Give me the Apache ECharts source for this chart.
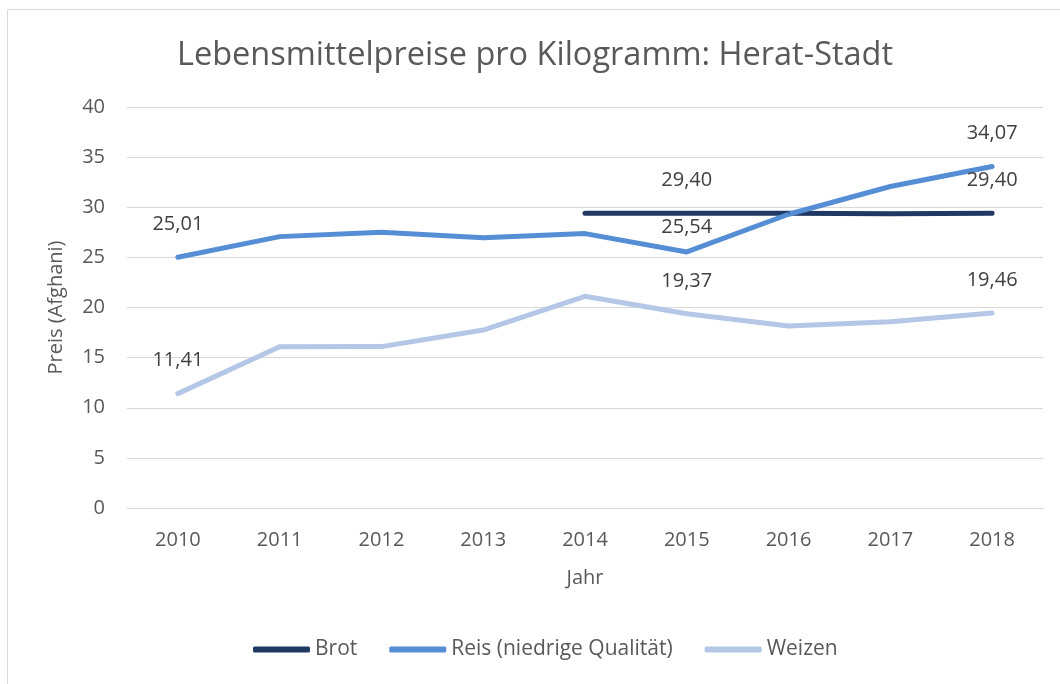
<!DOCTYPE html>
<html>
<head>
<meta charset="utf-8">
<title>Lebensmittelpreise pro Kilogramm: Herat-Stadt</title>
<script src="https://cdn.jsdelivr.net/npm/echarts@6/dist/echarts.min.js"></script>
<style>
	html, body { margin: 0; padding: 0; background: #fff; }
	#main { width: 1060px; height: 684px; }
</style>
</head>
<body>
<div id="main"></div>
<script>
//Daten
var years = ['2010', '2011', '2012', '2013', '2014', '2015', '2016', '2017', '2018'];
var brot = [null, null, null, null, 29.40, 29.40, 29.40, 29.35, 29.40];
var reis = [25.01, 27.07, 27.50, 26.95, 27.37, 25.54, 29.30, 32.07, 34.07];
var weizen = [11.41, 16.08, 16.10, 17.75, 21.12, 19.37, 18.15, 18.58, 19.46];
//welche Punkte eine Beschriftung bekommen
var brotLabels = [5, 8];
var reisLabels = [0, 5, 8];
var weizenLabels = [0, 5, 8];

var FONT = 'Open Sans';
var TEXT = '#595959';

function fmt(v) {
	return v.toFixed(2).replace('.', ',');
}

//Datenpunkte mit Beschriftung nur an den gewünschten Stellen
function buildData(values, idx, near) {
	var out = [];
	for(var i = 0; i < values.length; i++) {
		var lbl = { show: idx.indexOf(i) >= 0 && values[i] != null };
		//Beschriftung näher am Punkt (wie im Original, zwischen den Linien)
		if(near && near.indexOf(i) >= 0) {
			lbl.distance = 14;
		}
		out.push({
			value: values[i],
			label: lbl
		});
	}
	return out;
}

function lineSeries(name, values, idx, color, near) {
	return {
		name: name,
		type: 'line',
		data: buildData(values, idx, near),
		//Symbol wird gebraucht, sonst keine Labels; liegt unter der Linie
		symbol: 'circle',
		symbolSize: 2,
		showSymbol: true,
		showAllSymbol: true,
		connectNulls: false,
		lineStyle: {
			color: color,
			width: 5,
			cap: 'round',
			join: 'round'
		},
		itemStyle: { color: color },
		label: {
			show: false,
			position: 'top',
			distance: 22,
			fontFamily: FONT,
			fontSize: 20,
			lineHeight: 20,
			color: '#404040',
			formatter: function(p) {
				return fmt(p.value);
			}
		},
		emphasis: { disabled: true }
	};
}

var option = {
	animation: false,
	backgroundColor: '#fff',
	textStyle: { fontFamily: FONT },
	title: {
		text: 'Lebensmittelpreise pro Kilogramm: Herat-Stadt',
		left: 530,
		textAlign: 'center',
		top: 34,
		textStyle: {
			fontFamily: FONT,
			fontSize: 32.5,
			fontWeight: 'normal',
			color: TEXT
		}
	},
	graphic: [{
		type: 'rect',
		shape: { x: 7.5, y: 9.5, width: 1200, height: 1000 },
		style: { fill: 'none', stroke: '#D9D9D9', lineWidth: 1 },
		silent: true
	}],
	legend: {
		left: 248,
		top: 634,
		itemWidth: 57,
		itemHeight: 6,
		itemGap: 32,
		icon: 'roundRect',
		textStyle: {
			fontFamily: FONT,
			fontSize: 21,
			color: TEXT
		},
		data: ['Brot', 'Reis (niedrige Qualität)', 'Weizen']
	},
	grid: {
		left: 127,
		right: 17,
		top: 107,
		bottom: 176,
		containLabel: false
	},
	xAxis: {
		type: 'category',
		data: years,
		boundaryGap: true,
		name: 'Jahr',
		nameLocation: 'middle',
		nameGap: 60,
		nameTextStyle: { fontFamily: FONT, fontSize: 20, color: TEXT },
		axisLine: { show: true, lineStyle: { color: '#D9D9D9', width: 1 } },
		axisTick: { show: false },
		axisLabel: {
			margin: 22,
			fontFamily: FONT,
			fontSize: 20,
			color: TEXT
		},
		splitLine: { show: false }
	},
	yAxis: {
		type: 'value',
		min: 0,
		max: 40,
		interval: 5,
		name: 'Preis (Afghani)',
		nameLocation: 'middle',
		nameGap: 61,
		nameRotate: 90,
		nameTextStyle: { fontFamily: FONT, fontSize: 20, color: TEXT },
		axisLine: { show: false },
		axisTick: { show: false },
		axisLabel: {
			margin: 22,
			fontFamily: FONT,
			fontSize: 20,
			color: TEXT
		},
		splitLine: { show: true, lineStyle: { color: '#D9D9D9', width: 1 } }
	},
	series: [
		lineSeries('Brot', brot, brotLabels, '#1F3864'),
		lineSeries('Reis (niedrige Qualität)', reis, reisLabels, '#558ED5', [5]),
		lineSeries('Weizen', weizen, weizenLabels, '#B4C7E7')
	]
};

var myChart = echarts.init(document.getElementById('main'));
myChart.setOption(option);
</script>
</body>
</html>
